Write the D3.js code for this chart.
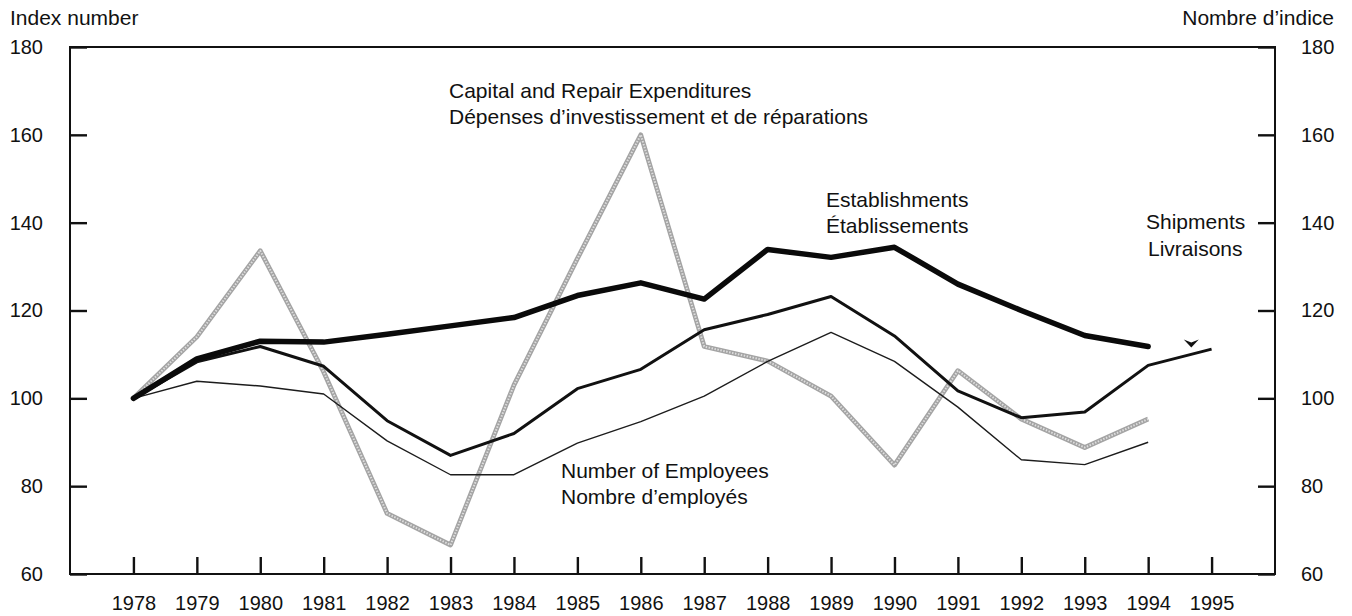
<!DOCTYPE html>
<html>
<head>
<meta charset="utf-8">
<script src="https://cdn.jsdelivr.net/npm/d3@7"></script>
<style>
    body { margin: 0; background: #fff; }
    svg text { font-family: "Liberation Sans", Arial, Helvetica, sans-serif; font-size: 21px; fill: #111; }
    svg .tick text { font-size: 20px; }
</style>
</head>
<body>
<div id="chart"></div>
<script>
// values (index, 1978 = 100)
let years = [1978, 1979, 1980, 1981, 1982, 1983, 1984, 1985, 1986, 1987, 1988, 1989, 1990, 1991, 1992, 1993, 1994];
let shipmentYears = [1978, 1979, 1980, 1981, 1982, 1983, 1984, 1985, 1986, 1987, 1988, 1989, 1990, 1991, 1992, 1993, 1994, 1995];
let establishments = [100, 109, 113, 112.8, 114.6, 116.5, 118.4, 123.4, 126.3, 122.6, 133.9, 132.1, 134.4, 126, 120, 114.3, 111.8];
let shipments = [100, 108.3, 111.8, 107.3, 94.9, 87, 92, 102.2, 106.6, 115.6, 119.1, 123.2, 114.2, 101.7, 95.6, 96.9, 107.5, 111.2];
let employees = [100, 103.9, 102.8, 101, 90.3, 82.6, 82.6, 89.8, 94.7, 100.5, 108.4, 115, 108.4, 98, 86, 84.9, 90];
let capital = [100, 114, 133.6, 106, 73.8, 66.6, 103, 131.8, 160, 111.8, 108.5, 100.5, 84.8, 106.3, 95.3, 88.8, 95.3];
let tickYears = [1978, 1979, 1980, 1981, 1982, 1983, 1984, 1985, 1986, 1987, 1988, 1989, 1990, 1991, 1992, 1993, 1994, 1995];
let tickIndex = [60, 80, 100, 120, 140, 160, 180];
let shipmentsMarker = {year: 1994.68, value: 112.6};

function drawChart(root) {
    let width = 1352, height = 616;
    let margin = {top: 47, bottom: 42, left: 70, right: 77};

    let svg = root.append("svg")
        .attr("width", width)
        .attr("height", height);

    let xScale = d3.scaleLinear().domain([1977, 1996]).range([margin.left, width - margin.right]);
    let yScale = d3.scaleLinear().domain([60, 180]).range([height - margin.bottom, margin.top]);

    let line = d3.line()
        .x(d => xScale(d[0]))
        .y(d => yScale(d[1]));

    // axes, ticks pointing inward
    let yLeft = d3.axisLeft(yScale).tickValues(tickIndex).tickSize(-17).tickPadding(27);
    let yRight = d3.axisRight(yScale).tickValues(tickIndex).tickSize(-17).tickPadding(26);
    let xAxis = d3.axisBottom(xScale).tickValues(tickYears).tickSize(-17).tickPadding(22).tickFormat(d3.format("d"));

    [[yLeft, `translate(${margin.left},0)`], [yRight, `translate(${width - margin.right},0)`],
     [xAxis, `translate(0,${height - margin.bottom})`]].forEach(([ax, tr]) => {
        let g = svg.append("g").attr("transform", tr).call(ax);
        g.select(".domain").remove();
        g.selectAll(".tick line").attr("stroke", "#111").attr("stroke-width", 2.4);
        g.selectAll(".tick text").attr("fill", "#111");
    });

    svg.append("rect")
        .attr("x", margin.left)
        .attr("y", margin.top)
        .attr("width", width - margin.left - margin.right)
        .attr("height", height - margin.top - margin.bottom)
        .attr("fill", "none")
        .attr("stroke", "#111")
        .attr("stroke-width", 2);

    // capital and repair: grey halftone band
    let capData = d3.zip(years, capital);
    svg.append("path").datum(capData)
        .attr("d", line).attr("fill", "none")
        .attr("stroke", "#a4a4a4").attr("stroke-width", 4.8).attr("stroke-linejoin", "round");
    svg.append("path").datum(capData)
        .attr("d", line).attr("fill", "none")
        .attr("stroke", "#dedede").attr("stroke-width", 2).attr("stroke-dasharray", "1.5,1.5")
        .attr("stroke-linejoin", "round");

    svg.append("path").datum(d3.zip(years, employees))
        .attr("d", line).attr("fill", "none")
        .attr("stroke", "#1c1c1c").attr("stroke-width", 1.4).attr("stroke-linejoin", "round");

    svg.append("path").datum(d3.zip(shipmentYears, shipments))
        .attr("d", line).attr("fill", "none")
        .attr("stroke", "#111").attr("stroke-width", 3).attr("stroke-linejoin", "round");

    svg.append("path").datum(d3.zip(years, establishments))
        .attr("d", line).attr("fill", "none")
        .attr("stroke", "#0a0a0a").attr("stroke-width", 5.5)
        .attr("stroke-linejoin", "round").attr("stroke-linecap", "round");

    svg.append("path")
        .attr("transform", `translate(${xScale(shipmentsMarker.year)},${yScale(shipmentsMarker.value)})`)
        .attr("d", "M-7.5,-3.5L0,-0.5L7.5,-3.5L0,4.5Z")
        .attr("fill", "#111");

    // titles and series labels
    svg.append("text").attr("x", 10).attr("y", 25).text("Index number");
    svg.append("text").attr("x", 1334).attr("y", 25).attr("text-anchor", "end").text("Nombre d\u2019indice");

    let labels = [
        {x: 449, y: 98, t: "Capital and Repair Expenditures"},
        {x: 449, y: 124, t: "D\u00e9penses d\u2019investissement et de r\u00e9parations"},
        {x: 826, y: 207, t: "Establishments"},
        {x: 826, y: 233, t: "\u00c9tablissements"},
        {x: 1146, y: 229, t: "Shipments"},
        {x: 1148, y: 256, t: "Livraisons"},
        {x: 561, y: 478, t: "Number of Employees"},
        {x: 561, y: 504, t: "Nombre d\u2019employ\u00e9s"}
    ];
    svg.selectAll("text.lbl")
        .data(labels)
        .enter()
        .append("text")
        .attr("class", "lbl")
        .attr("x", d => d.x)
        .attr("y", d => d.y)
        .text(d => d.t);
}

drawChart(d3.select("#chart"));
</script>
</body>
</html>
